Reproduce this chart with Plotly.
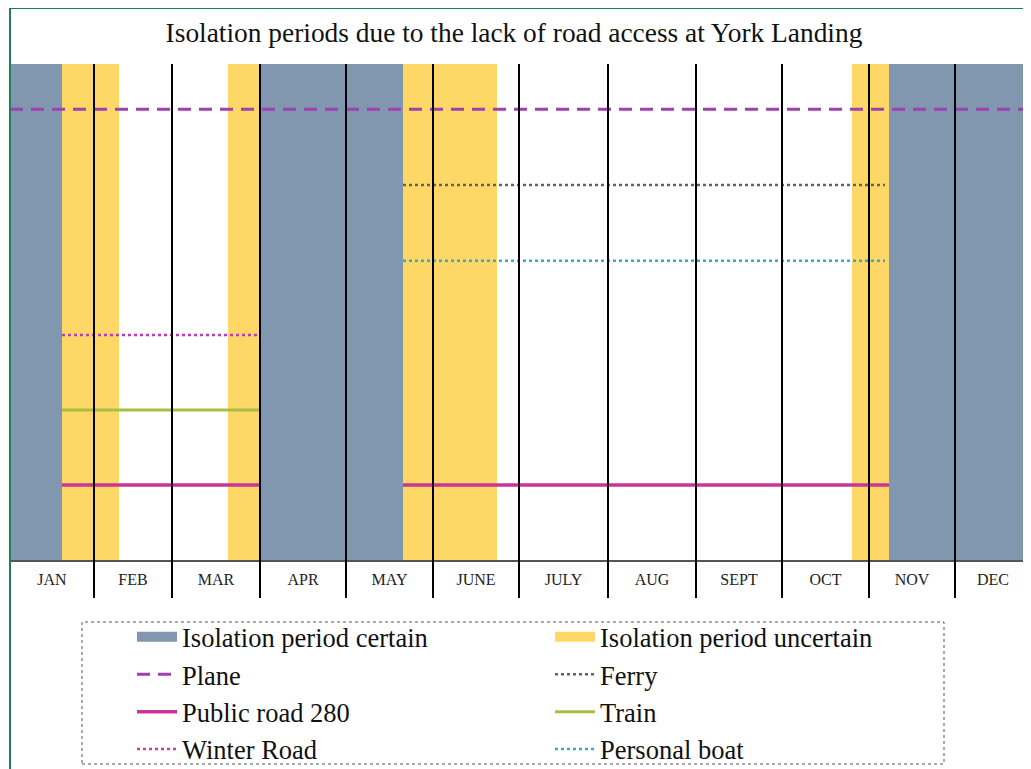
import plotly.graph_objects as go

# ---------------- data ----------------
months = ["JAN", "FEB", "MAR", "APR", "MAY", "JUNE", "JULY", "AUG", "SEPT", "OCT", "NOV", "DEC"]
# month boundaries along the time axis (chart units)
month_edges = [0, 84, 162, 250, 336, 423, 509, 598, 686, 772, 859, 945, 1021]

certain_start = [0, 250, 879]
certain_end = [52, 393, 1021]
uncertain_start = [52, 218, 393, 842]
uncertain_end = [109, 250, 487, 879]

# transport modes: extent along time axis and row level
plane_x = [0, 1021]
plane_level = 6.01
ferry_x = [393, 875]
ferry_level = 5.0
boat_x = [393, 875]
boat_level = 3.99
winter_x = [52, 250]
winter_level = 3.0
train_x = [52, 250]
train_level = 2.0
road_x1 = [52, 250]
road_x2 = [393, 879]
road_level = 1.0

# ---------------- styles ----------------
C_CERTAIN = "#8196AF"
C_UNCERT = "#FDD866"
C_PLANE = "#A040B0"
C_FERRY = "#5f6363"
C_BOAT = "#3AA8C8"
C_WINTER = "#C13AB8"
C_TRAIN = "#A8BE44"
C_ROAD = "#CC3399"
SERIF = "Liberation Serif, Times New Roman, serif"

# page body has an 8px margin; figure is sized/offset to compensate
W, H = 1023, 761

fig = go.Figure()

# background period bands as shapes
for s, e in zip(certain_start, certain_end):
    fig.add_shape(type="rect", xref="x", yref="paper", x0=s, x1=e, y0=0, y1=1,
                  fillcolor=C_CERTAIN, line_width=0, layer="below")
for s, e in zip(uncertain_start, uncertain_end):
    fig.add_shape(type="rect", xref="x", yref="paper", x0=s, x1=e, y0=0, y1=1,
                  fillcolor=C_UNCERT, line_width=0, layer="below")

# legend proxies for bands (thick line = rectangle swatch)
fig.add_trace(go.Scatter(x=[None, None], y=[None, None], mode="lines",
                         name="Isolation period certain",
                         line=dict(color=C_CERTAIN, width=15)))
fig.add_trace(go.Scatter(x=[None, None], y=[None, None], mode="lines",
                         name="Isolation period uncertain",
                         line=dict(color=C_UNCERT, width=15)))

# transport lines
fig.add_trace(go.Scatter(x=plane_x, y=[plane_level] * 2, mode="lines", name="Plane",
                         line=dict(color=C_PLANE, width=3, dash="13px,8px")))
fig.add_trace(go.Scatter(x=ferry_x, y=[ferry_level] * 2, mode="lines", name="Ferry",
                         line=dict(color=C_FERRY, width=2.5, dash="dot")))
fig.add_trace(go.Scatter(x=road_x1 + [None] + road_x2,
                         y=[road_level] * 2 + [None] + [road_level] * 2,
                         mode="lines", name="Public road 280",
                         line=dict(color=C_ROAD, width=3.5)))
fig.add_trace(go.Scatter(x=train_x, y=[train_level] * 2, mode="lines", name="Train",
                         line=dict(color=C_TRAIN, width=3)))
fig.add_trace(go.Scatter(x=winter_x, y=[winter_level] * 2, mode="lines", name="Winter Road",
                         line=dict(color=C_WINTER, width=2.5, dash="dot")))
fig.add_trace(go.Scatter(x=boat_x, y=[boat_level] * 2, mode="lines", name="Personal boat",
                         line=dict(color=C_BOAT, width=2.5, dash="dot")))

# month separator lines (extend below axis)
for e in month_edges[1:-1]:
    fig.add_shape(type="line", xref="x", yref="paper", x0=e, x1=e, y0=-38 / 496, y1=1,
                  line=dict(color="black", width=2), layer="above")

# frame around figure
fig.add_shape(type="rect", xref="paper", yref="paper",
              x0=0, x1=1.05, y0=-1.0, y1=1 + 56 / 496,
              line=dict(color="#1E7F5E", width=2), fillcolor="rgba(0,0,0,0)")

# dotted legend box
fig.add_shape(type="rect", xref="paper", yref="paper",
              x0=(82 - 10) / 1021, x1=(944 - 10) / 1021,
              y0=-(764 - 560) / 496, y1=-(622 - 560) / 496,
              line=dict(color="#555", width=1, dash="dot"))

centers = [(a + b) / 2 for a, b in zip(month_edges[:-1], month_edges[1:])]

fig.update_layout(
    width=W, height=H,
    margin=dict(l=2, r=0, t=56, b=209, autoexpand=False),
    paper_bgcolor="white", plot_bgcolor="white",
    title=dict(text="Isolation periods due to the lack of road access at York Landing",
               x=(514 - 10) / 1021, xref="paper", xanchor="center",
               y=1 - 24 / H, yanchor="middle",
               font=dict(family=SERIF, size=27.4, color="#111")),
    xaxis=dict(range=[month_edges[0], month_edges[-1]], tickvals=centers, ticktext=months,
               showgrid=False, zeroline=False, showline=True, linecolor="#555", linewidth=2,
               ticks="", tickfont=dict(family=SERIF, size=16, color="#222"), ticklabelstandoff=4),
    yaxis=dict(range=[0, 496 / 75], visible=False, showgrid=False, zeroline=False),
    legend=dict(orientation="h", x=(132 - 10) / 1021, y=-(773 - 560) / 496,
                xanchor="left", yanchor="bottom", entrywidth=363, entrywidthmode="pixels",
                font=dict(family=SERIF, size=26.5, color="#111"),
                bgcolor="rgba(0,0,0,0)", traceorder="normal", itemwidth=40),
    showlegend=True,
)

fig.write_html("out.html")
